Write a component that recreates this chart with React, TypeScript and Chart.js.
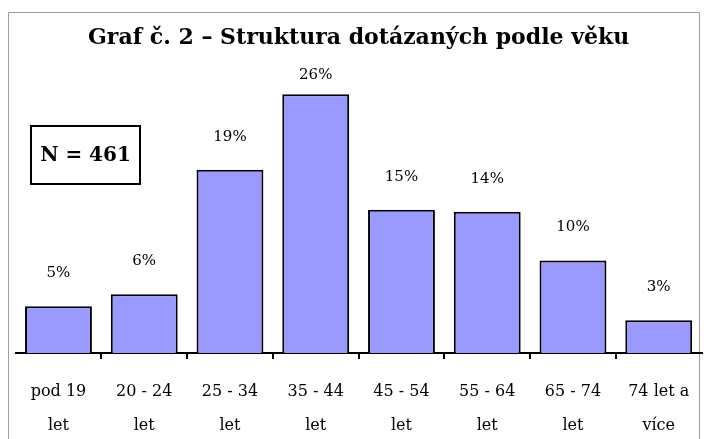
import React, { useEffect, useRef } from 'react';
import { Chart, registerables } from 'chart.js';

Chart.register(...registerables);

const categories: string[][] = [
  ['pod 19', 'let'],
  ['20 - 24', 'let'],
  ['25 - 34', 'let'],
  ['35 - 44', 'let'],
  ['45 - 54', 'let'],
  ['55 - 64', 'let'],
  ['65 - 74', 'let'],
  ['74 let a', 'více'],
];
const values: number[] = [4.7, 5.9, 18.4, 26, 14.4, 14.2, 9.3, 3.3];
const valueLabels: string[] = ['5%', '6%', '19%', '26%', '15%', '14%', '10%', '3%'];
const titleText = 'Graf č. 2 – Struktura dotázaných podle věku';
const noteText = 'N = 461';

const SERIF = '"DejaVu Serif", "Liberation Serif", serif';

const extrasPlugin = {
  id: 'extras',
  beforeDraw(chart: any) {
    const ctx = chart.ctx;
    ctx.save();
    ctx.strokeStyle = '#a0a0a0';
    ctx.lineWidth = 1;
    ctx.beginPath();
    ctx.moveTo(8.5, chart.height);
    ctx.lineTo(8.5, 12.5);
    ctx.lineTo(699.5, 12.5);
    ctx.lineTo(699.5, chart.height);
    ctx.stroke();
    ctx.restore();
  },
  afterDatasetsDraw(chart: any) {
    const ctx = chart.ctx;
    const meta = chart.getDatasetMeta(0);
    const area = chart.chartArea;
    ctx.save();
    ctx.fillStyle = '#000';
    ctx.font = `15px ${SERIF}`;
    ctx.textAlign = 'center';
    ctx.textBaseline = 'middle';
    meta.data.forEach((bar: any, i: number) => {
      const y = Math.max(bar.y - 33, area.top + 21);
      ctx.fillText(valueLabels[i], bar.x, y);
    });
    // N box
    ctx.lineWidth = 2;
    ctx.strokeStyle = '#000';
    ctx.fillStyle = '#fff';
    ctx.fillRect(31, 126, 109, 58);
    ctx.strokeRect(31, 126, 109, 58);
    ctx.fillStyle = '#000';
    ctx.font = `bold 20px ${SERIF}`;
    ctx.fillText(noteText, 85.5, 156);
    ctx.restore();
  },
};

export default function App() {
  const ref = useRef<HTMLCanvasElement | null>(null);
  useEffect(() => {
    if (!ref.current) return;
    const chart = new Chart(ref.current, {
      type: 'bar',
      data: {
        labels: categories,
        datasets: [
          {
            data: values,
            backgroundColor: '#9999ff',
            borderColor: '#000',
            borderWidth: 2,
            borderSkipped: 'bottom',
            categoryPercentage: 1,
            barPercentage: 0.78,
          },
        ],
      },
      options: {
        animation: false,
        responsive: false,
        devicePixelRatio: 1,
        layout: { padding: { left: 15.6, right: 11.4, top: 0, bottom: 0 } },
        plugins: {
          legend: { display: false },
          tooltip: { enabled: false },
          title: {
            display: true,
            text: titleText,
            color: '#000',
            font: { family: SERIF, size: 22, weight: 'bold', lineHeight: 1.2 },
            padding: { top: 25, bottom: 3 },
          },
        },
        scales: {
          x: {
            offset: true,
            grid: {
              display: true,
              drawOnChartArea: false,
              drawTicks: true,
              tickLength: 6,
              color: (c: any) =>
                c.type !== 'tick' || c.index === 0 ? 'rgba(0,0,0,0)' : '#000',
              lineWidth: 2,
            },
            border: { display: true, color: '#000', width: 2 },
            ticks: {
              color: '#000',
              font: { family: SERIF, size: 16, lineHeight: 2.1 },
              padding: 16,
              maxRotation: 0,
              autoSkip: false,
            },
            afterFit: (scale: any) => {
              scale.height = 86;
            },
          },
          y: {
            display: false,
            min: 0,
            max: 30,
          },
        },
      },
      plugins: [extrasPlugin],
    });
    return () => chart.destroy();
  }, []);
  return (
    <div style={{ position: 'fixed', left: 0, top: 0, width: 713, height: 439, background: '#fff' }}>
      <canvas ref={ref} width={713} height={439} style={{ width: 713, height: 439, display: 'block' }} />
    </div>
  );
}
